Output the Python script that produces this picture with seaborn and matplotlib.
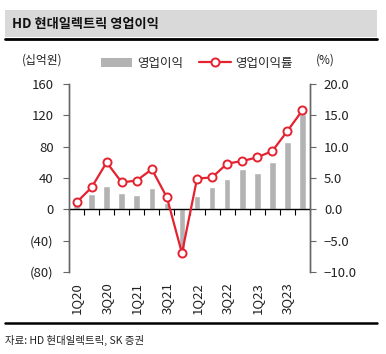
import numpy as np
import pandas as pd
import matplotlib
matplotlib.use('Agg')
import matplotlib.pyplot as plt
import seaborn as sns
from matplotlib.patches import Rectangle
from matplotlib.lines import Line2D
import matplotlib.transforms as mtransforms

# data
quarters = ['1Q20', '2Q20', '3Q20', '4Q20', '1Q21', '2Q21', '3Q21', '4Q21',
            '1Q22', '2Q22', '3Q22', '4Q22', '1Q23', '2Q23', '3Q23', '4Q23']
op_profit = [5, 19, 30, 21, 18, 27, 8, -52,
             17, 28, 39, 52, 47, 60, 86, 122]          # 십억원
op_margin = [1.1, 3.5, 7.5, 4.3, 4.6, 6.4, 1.9, -7.0,
             4.9, 5.1, 7.3, 7.7, 8.3, 9.3, 12.5, 15.8]  # %
shown_labels = ['1Q20', '3Q20', '1Q21', '3Q21', '1Q22', '3Q22', '1Q23', '3Q23']
left_ticks = [160, 120, 80, 40, 0, -40, -80]
right_ticks = [20, 15, 10, 5, 0, -5, -10]

BAR_COLOR = '#b3b3b3'
RED = '#e42230'
FONT = ['Noto Sans CJK KR', 'DejaVu Sans']

sns.set_style('white')
plt.rcParams['font.family'] = FONT
plt.rcParams['axes.unicode_minus'] = True

df = pd.DataFrame({'quarter': quarters, 'profit': op_profit, 'margin': op_margin,
                   'pos': np.arange(len(quarters))})

W, H = 386, 354
fig = plt.figure(figsize=(W / 100, H / 100), dpi=100)
ax = fig.add_axes([69 / W, 1 - 272 / H, 241 / W, 188 / H])
ax2 = ax.twinx()

sns.barplot(data=df, x='quarter', y='profit', color=BAR_COLOR, width=0.44,
            saturation=1, label='영업이익', ax=ax)
sns.lineplot(data=df, x='pos', y='margin', color=RED, linewidth=1.6,
             marker='o', markersize=5.8, markerfacecolor='white',
             markeredgecolor=RED, markeredgewidth=1.4, label='영업이익률', ax=ax2)

ax.set_xlim(-0.5, len(quarters) - 0.5)
ax.set_ylim(-80, 160)
ax2.set_ylim(-10, 20)

# left axis
ax.set_yticks(left_ticks)
ax.set_yticklabels([str(v) if v >= 0 else f'({-v})' for v in left_ticks], fontsize=9.5)
# right axis
ax2.set_yticks(right_ticks)
ax2.set_yticklabels([f'{v:.1f}'.replace('-', '\u2212') for v in right_ticks], fontsize=9.5)

for a in (ax, ax2):
    a.set_xlabel('')
    a.set_ylabel('')
    a.spines['top'].set_visible(False)
    a.spines['left'].set_color('#666666')
    a.spines['right'].set_color('#666666')
    a.spines['left'].set_linewidth(1.0)
    a.spines['right'].set_linewidth(1.0)
    a.spines['bottom'].set_visible(False)
    a.grid(False)
    if a.get_legend():
        a.get_legend().remove()

ax.tick_params(axis='y', left=True, length=4, width=0.8, color='#666666', pad=7, labelcolor='#222222')
ax2.tick_params(axis='y', right=True, length=4, width=0.8, color='#666666', pad=6, labelcolor='#222222')

# zero line with boundary ticks
ax.spines['bottom'].set_visible(True)
ax.spines['bottom'].set_position(('data', 0))
ax.spines['bottom'].set_color('black')
ax.spines['bottom'].set_linewidth(1.0)
ax.set_xticks(np.arange(-0.5, len(quarters), 1.0))
ax.set_xticklabels([])
ax.tick_params(axis='x', bottom=True, direction='out', length=4, width=0.8, color='black')
ax2.tick_params(axis='x', bottom=False, labelbottom=False)

# quarter labels below the plot
trans = mtransforms.blended_transform_factory(ax.transData, ax.transAxes)
for i, q in enumerate(quarters):
    if q in shown_labels:
        ax.text(i, -0.055, q, transform=trans, rotation=90, ha='center', va='top',
                fontsize=9.5, color='#222222')

# unit labels
fig.text(22 / W, 1 - 60 / H, '(십억원)', fontsize=8.5, ha='left', va='center', color='#222222')
fig.text(316 / W, 1 - 60 / H, '(%)', fontsize=8.5, ha='left', va='center', color='#222222')

# legend
handles = [Rectangle((0, 0), 1, 1, facecolor=BAR_COLOR, edgecolor='none'),
           Line2D([0], [0], color=RED, linewidth=1.6, marker='o', markersize=5.8,
                  markerfacecolor='white', markeredgecolor=RED, markeredgewidth=1.4)]
fig.legend(handles, ['영업이익', '영업이익률'], loc='center', ncol=2,
           bbox_to_anchor=(197 / W, 1 - 63 / H), frameon=False, fontsize=9,
           handlelength=2.5, handleheight=0.7, handletextpad=0.4, columnspacing=1.3)

# title band
fig.patches.append(Rectangle((5 / W, 1 - 37 / H), 372 / W, 27 / H, transform=fig.transFigure,
                             facecolor='#d9d9d9', edgecolor='none', zorder=0))
fig.add_artist(Line2D([5 / W, 377 / W], [1 - 38.5 / H, 1 - 38.5 / H], color='black', linewidth=2))
fig.text(12 / W, 1 - 24 / H, 'HD 현대일렉트릭 영업이익', fontsize=9.5, fontweight='bold',
         ha='left', va='center', color='#111111')

# bottom rule and source
fig.add_artist(Line2D([5 / W, 377 / W], [1 - 323 / H, 1 - 323 / H], color='black', linewidth=1.8))
fig.text(5 / W, 1 - 340 / H, '자료: HD 현대일렉트릭, SK 증권', fontsize=7.5,
         ha='left', va='center', color='#222222')

fig.savefig('out.png', dpi=100)
plt.close(fig)
